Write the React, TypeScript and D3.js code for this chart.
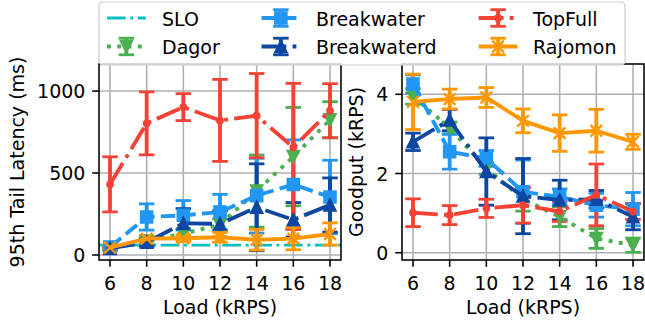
import React from 'react';
import * as d3 from 'd3';

// ---------- data ----------
const loads = [6, 8, 10, 12, 14, 16, 18];
const xTicks = [6, 8, 10, 12, 14, 16, 18];
const latencyTicks = [0, 500, 1000];
const goodputTicks = [0, 2, 4];
const sloLatency = 60;

const dagorLatency = [45, 85, 130, 185, 390, 600, 825];
const dagorLatencyErr = [10, 20, 30, 35, 220, 300, 110];
const breakwaterLatency = [48, 232, 242, 262, 362, 430, 354];
const breakwaterLatencyErr = [12, 80, 90, 108, 228, 272, 224];
const breakwaterdLatency = [40, 78, 193, 190, 291, 215, 305];
const breakwaterdLatencyErr = [10, 25, 90, 80, 265, 105, 165];
const topfullLatency = [431, 803, 902, 821, 850, 656, 880];
const topfullLatencyErr = [168, 192, 82, 250, 257, 391, 165];
const topfullLatencyErrLow = [168, 192, 82, 250, 257, 500, 165];
const rajomonLatency = [45, 100, 102, 108, 93, 100, 128];
const rajomonLatencyErr = [10, 15, 20, 30, 63, 68, 68];

const dagorGoodput = [3.95, 3.15, 2.13, 1.35, 0.91, 0.36, 0.19];
const dagorGoodputErr = [0.2, 0.15, 0.15, 0.3, 0.25, 0.25, 0.18];
const breakwaterGoodput = [4.26, 2.55, 2.38, 1.54, 1.41, 1.2, 1.1];
const breakwaterGoodputErr = [0.23, 0.44, 0.2, 0.8, 0.2, 0.3, 0.42];
const breakwaterdGoodput = [2.8, 3.35, 2.05, 1.43, 1.33, 1.35, 0.91];
const breakwaterdGoodputErr = [0.22, 0.27, 0.85, 0.95, 0.5, 0.22, 0.33];
const topfullGoodput = [1.01, 0.95, 1.12, 1.2, 1.04, 1.46, 1.04];
const topfullGoodputErr = [0.35, 0.24, 0.23, 0.45, 0.25, 0.78, 0.2];
const rajomonGoodput = [3.81, 3.88, 3.92, 3.33, 3.02, 3.08, 2.8];
const rajomonGoodputErr = [0.7, 0.25, 0.25, 0.3, 0.46, 0.54, 0.19];

// ---------- styles ----------
const PT = 1.94;
const LW = 2 * PT;
const FONT = 'DejaVu Sans, sans-serif';
const FS = 19;
const MS = 6 * PT;
const CAP = 4 * PT;

const dashes: Record<string, string> = {
  solid: 'none',
  dashed: `${3.7 * LW} ${1.6 * LW}`,
  dashdot: `${6.4 * LW} ${1.6 * LW} ${1 * LW} ${1.6 * LW}`,
  dotted: `${1 * LW} ${1.65 * LW}`,
};
const SLO_LW = 1.5 * PT;
const sloDash = `${6.4 * SLO_LW} ${1.6 * SLO_LW} ${1 * SLO_LW} ${1.6 * SLO_LW}`;

type Style = { name: string; color: string; marker: string; dash: string };
const styles: Style[] = [
  { name: 'Dagor', color: '#4caf50', marker: 'v', dash: 'dotted' },
  { name: 'Breakwater', color: '#2196f3', marker: 's', dash: 'dashed' },
  { name: 'Breakwaterd', color: '#0d47a1', marker: '^', dash: 'dashdot' },
  { name: 'TopFull', color: '#f44336', marker: '.', dash: 'dashdot' },
  { name: 'Rajomon', color: '#ff9800', marker: 'x', dash: 'solid' },
];
const SLO_COLOR = '#00bfbf';

// [values, upper error, lower error (optional)]
const latencySeries: number[][][] = [
  [dagorLatency, dagorLatencyErr],
  [breakwaterLatency, breakwaterLatencyErr],
  [breakwaterdLatency, breakwaterdLatencyErr],
  [topfullLatency, topfullLatencyErr, topfullLatencyErrLow],
  [rajomonLatency, rajomonLatencyErr],
];
const goodputSeries: number[][][] = [
  [dagorGoodput, dagorGoodputErr],
  [breakwaterGoodput, breakwaterGoodputErr],
  [breakwaterdGoodput, breakwaterdGoodputErr],
  [topfullGoodput, topfullGoodputErr],
  [rajomonGoodput, rajomonGoodputErr],
];

function Marker({ type, x, y, color }: { type: string; x: number; y: number; color: string }) {
  const h = MS / 2;
  const common = { stroke: color, strokeWidth: PT, fill: color, strokeLinejoin: 'miter' as const };
  if (type === 's') return <path d={`M${x - h},${y - h}H${x + h}V${y + h}H${x - h}Z`} {...common} />;
  if (type === '^') return <path d={`M${x},${y - h}L${x - h},${y + h}L${x + h},${y + h}Z`} {...common} />;
  if (type === 'v') return <path d={`M${x},${y + h}L${x - h},${y - h}L${x + h},${y - h}Z`} {...common} />;
  if (type === '.') return <circle cx={x} cy={y} r={MS / 4} {...common} />;
  if (type === 'x')
    return (
      <path
        d={`M${x - h},${y - h}L${x + h},${y + h}M${x - h},${y + h}L${x + h},${y - h}`}
        stroke={color}
        strokeWidth={2.4}
        fill="none"
      />
    );
  return null;
}

function ErrorBar({ x, y1, y2, color }: { x: number; y1: number; y2: number; color: string }) {
  return (
    <g>
      <line x1={x} x2={x} y1={y1} y2={y2} stroke={color} strokeWidth={LW} />
      <line x1={x - CAP} x2={x + CAP} y1={y1} y2={y1} stroke={color} strokeWidth={2.8} />
      <line x1={x - CAP} x2={x + CAP} y1={y2} y2={y2} stroke={color} strokeWidth={2.8} />
    </g>
  );
}

type PanelProps = {
  id: string;
  x0: number;
  x1: number;
  yDomain: [number, number];
  yTicks: number[];
  yLabel: string;
  yLabelX: number;
  series: number[][][];
  slo?: number;
};

const TOP = 64;
const BOTTOM = 260;

function Panel({ id, x0, x1, yDomain, yTicks, yLabel, yLabelX, series, slo }: PanelProps) {
  const x = d3.scaleLinear().domain([5.4, 18.6]).range([x0, x1]);
  const y = d3.scaleLinear().domain(yDomain).range([BOTTOM, TOP]);
  const TL = 3.5 * PT;
  return (
    <g>
      <defs>
        <clipPath id={id}>
          <rect x={x0} y={TOP} width={x1 - x0} height={BOTTOM - TOP} />
        </clipPath>
      </defs>
      {xTicks.map((t) => (
        <line key={'gx' + t} x1={x(t)} x2={x(t)} y1={TOP} y2={BOTTOM} stroke="#b0b0b0" strokeWidth={0.8 * PT} />
      ))}
      {yTicks.map((t) => (
        <line key={'gy' + t} x1={x0} x2={x1} y1={y(t)} y2={y(t)} stroke="#b0b0b0" strokeWidth={0.8 * PT} />
      ))}
      <g clipPath={`url(#${id})`}>
        {slo !== undefined && (
          <line
            x1={x0}
            x2={x1}
            y1={y(slo)}
            y2={y(slo)}
            stroke={SLO_COLOR}
            strokeWidth={SLO_LW}
            strokeDasharray={sloDash}
          />
        )}
        {series.map(([vals, errUp, errLow], si) =>
          vals.map((v, i) => (
            <ErrorBar
              key={`e${si}-${i}`}
              x={x(loads[i])}
              y1={y(v + errUp[i])}
              y2={y(v - (errLow ? errLow[i] : errUp[i]))}
              color={styles[si].color}
            />
          ))
        )}
        {series.map(([vals], si) => {
          const line = d3
            .line<number>()
            .x((_, i) => x(loads[i]))
            .y((v) => y(v));
          const st = styles[si];
          return (
            <g key={'l' + si}>
              <path
                d={line(vals) || ''}
                fill="none"
                stroke={st.color}
                strokeWidth={LW}
                strokeDasharray={dashes[st.dash]}
                strokeLinejoin="round"
              />
              {vals.map((v, i) => (
                <Marker key={i} type={st.marker} x={x(loads[i])} y={y(v)} color={st.color} />
              ))}
            </g>
          );
        })}
      </g>
      <rect x={x0} y={TOP} width={x1 - x0} height={BOTTOM - TOP} fill="none" stroke="#000" strokeWidth={0.8 * PT} />
      {xTicks.map((t) => (
        <g key={'tx' + t}>
          <line x1={x(t)} x2={x(t)} y1={BOTTOM} y2={BOTTOM + TL} stroke="#000" strokeWidth={0.8 * PT} />
          <text x={x(t)} y={290} textAnchor="middle" fontFamily={FONT} fontSize={FS} fill="#000">
            {t}
          </text>
        </g>
      ))}
      {yTicks.map((t) => (
        <g key={'ty' + t}>
          <line x1={x0} x2={x0 - TL} y1={y(t)} y2={y(t)} stroke="#000" strokeWidth={0.8 * PT} />
          <text x={x0 - 2 * TL} y={y(t) + 7} textAnchor="end" fontFamily={FONT} fontSize={FS} fill="#000">
            {t}
          </text>
        </g>
      ))}
      <text x={(x0 + x1) / 2} y={314} textAnchor="middle" fontFamily={FONT} fontSize={FS} fill="#000">
        Load (kRPS)
      </text>
      <text
        transform={`translate(${yLabelX},${(TOP + BOTTOM) / 2}) rotate(-90)`}
        textAnchor="middle"
        dominantBaseline="central"
        fontFamily={FONT}
        fontSize={FS}
        fill="#000"
      >
        {yLabel}
      </text>
    </g>
  );
}

function LegendHandle({ x0, yc, st }: { x0: number; yc: number; st: Style }) {
  const len = 38.8;
  const cx = x0 + len / 2;
  const eh = 8.3;
  return (
    <g>
      <line x1={cx} x2={cx} y1={yc - eh} y2={yc + eh} stroke={st.color} strokeWidth={LW} />
      <line x1={cx - CAP} x2={cx + CAP} y1={yc - eh} y2={yc - eh} stroke={st.color} strokeWidth={2.8} />
      <line x1={cx - CAP} x2={cx + CAP} y1={yc + eh} y2={yc + eh} stroke={st.color} strokeWidth={2.8} />
      <line x1={x0} x2={x0 + len} y1={yc} y2={yc} stroke={st.color} strokeWidth={LW} strokeDasharray={dashes[st.dash]} />
      <Marker type={st.marker} x={cx} y={yc} color={st.color} />
    </g>
  );
}

function Legend() {
  const cols = [107, 261.5, 478.7];
  const textX = [162, 316, 533];
  const rowsY = [18, 46.5];
  const items: { label: string; col: number; row: number; st?: Style }[] = [
    { label: 'SLO', col: 0, row: 0 },
    { label: styles[0].name, col: 0, row: 1, st: styles[0] },
    { label: styles[1].name, col: 1, row: 0, st: styles[1] },
    { label: styles[2].name, col: 1, row: 1, st: styles[2] },
    { label: styles[3].name, col: 2, row: 0, st: styles[3] },
    { label: styles[4].name, col: 2, row: 1, st: styles[4] },
  ];
  return (
    <g>
      <rect x={99} y={2} width={526} height={63} rx={4} fill="#fff" fillOpacity={0.8} stroke="#cccccc" strokeWidth={1.2} />
      {items.map((it) => (
        <g key={it.label}>
          {it.st ? (
            <LegendHandle x0={cols[it.col]} yc={rowsY[it.row]} st={it.st} />
          ) : (
            <line
              x1={cols[it.col]}
              x2={cols[it.col] + 38.8}
              y1={rowsY[it.row]}
              y2={rowsY[it.row]}
              stroke={SLO_COLOR}
              strokeWidth={SLO_LW}
              strokeDasharray={sloDash}
            />
          )}
          <text x={textX[it.col]} y={rowsY[it.row] + 7.5} fontFamily={FONT} fontSize={FS} fill="#000">
            {it.label}
          </text>
        </g>
      ))}
    </g>
  );
}

export default function App() {
  return (
    <svg
      width={645}
      height={327}
      style={{ position: 'absolute', left: 0, top: 0, background: '#fff' }}
      xmlns="http://www.w3.org/2000/svg"
    >
      <rect width={645} height={327} fill="#fff" />
      <Panel
        id="clipL"
        x0={99}
        x1={341}
        yDomain={[-30.5, 1165]}
        yTicks={latencyTicks}
        yLabel="95th Tail Latency (ms)"
        yLabelX={16.5}
        series={latencySeries}
        slo={sloLatency}
      />
      <Panel
        id="clipR"
        x0={402}
        x1={644}
        yDomain={[-0.184, 4.765]}
        yTicks={goodputTicks}
        yLabel="Goodput (kRPS)"
        yLabelX={356}
        series={goodputSeries}
      />
      <Legend />
    </svg>
  );
}
